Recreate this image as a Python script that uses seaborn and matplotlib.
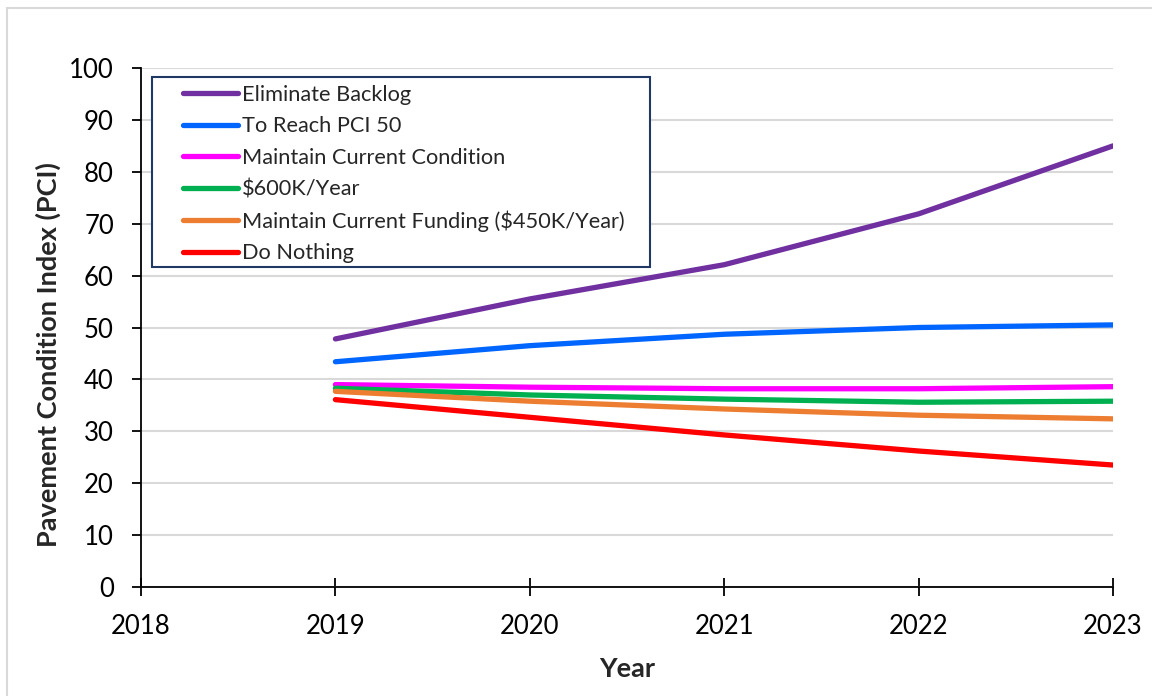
import pandas as pd
import seaborn as sns
import matplotlib.pyplot as plt
from matplotlib.patches import Rectangle

years = [2019, 2020, 2021, 2022, 2023]
eliminate_backlog = [47.8, 55.5, 62.1, 71.9, 85.0]
reach_pci_50 = [43.4, 46.5, 48.7, 50.0, 50.5]
maintain_condition = [39.0, 38.5, 38.2, 38.2, 38.6]
funding_600k = [38.3, 37.0, 36.2, 35.6, 35.8]
funding_450k = [37.7, 35.8, 34.3, 33.1, 32.4]
do_nothing = [36.1, 32.7, 29.3, 26.2, 23.5]

scenarios = ["Eliminate Backlog", "To Reach PCI 50", "Maintain Current Condition",
             "$600K/Year", "Maintain Current Funding ($450K/Year)", "Do Nothing"]
colors = ["#7030a0", "#0066ff", "#ff00ff", "#00b050", "#ed7d31", "#ff0000"]


def build_frame():
    '''
    Long-form table of PCI by year for each scenario
    '''
    series = [eliminate_backlog, reach_pci_50, maintain_condition,
              funding_600k, funding_450k, do_nothing]
    rows = []
    for name, values in zip(scenarios, series):
        for year, pci in zip(years, values):
            rows.append({"Year": year, "PCI": pci, "Scenario": name})
    return pd.DataFrame(rows)


def main():
    df = build_frame()
    sns.set_theme(style="white")
    plt.rcParams["font.family"] = ["Lato", "DejaVu Sans"]

    fig = plt.figure(figsize=(11.52, 6.96), dpi=100)
    ax = fig.add_axes([0.1224, 0.1566, 0.8438, 0.7457])
    # chart area border like the spreadsheet export
    fig.patches.append(Rectangle((0.006, -0.01), 1.2, 0.998, transform=fig.transFigure,
                                 fill=False, edgecolor="#d9d9d9", linewidth=1.5))

    sns.lineplot(data=df, x="Year", y="PCI", hue="Scenario", hue_order=scenarios,
                 palette=colors, linewidth=3.8, ax=ax, legend=False,
                 solid_capstyle="round")

    ax.set_xlim(2018, 2023)
    ax.set_ylim(0, 100)
    ax.set_xticks(range(2018, 2024))
    ax.set_yticks(range(0, 101, 10))
    ax.grid(axis="y", color="#d9d9d9", linewidth=1.5)
    ax.set_axisbelow(True)
    for side in ["top", "right"]:
        ax.spines[side].set_visible(False)
    for side in ["left", "bottom"]:
        ax.spines[side].set_color("black")
        ax.spines[side].set_linewidth(1.3)
    ax.tick_params(axis="y", direction="out", length=6.5, width=1.3, colors="black",
                   labelsize=18.5, left=True, pad=13)
    ax.tick_params(axis="x", direction="inout", length=13, width=1.3, colors="black",
                   labelsize=18.5, bottom=True, pad=13)
    ax.set_xlabel("Year", fontsize=19.5, fontweight="bold", labelpad=13)
    ax.set_ylabel("Pavement Condition Index (PCI)", fontsize=19.5, fontweight="bold")
    ax.yaxis.set_label_coords(-0.082, 0.448)

    # legend box is wider than its entries, so draw the frame separately
    ax.add_patch(Rectangle((0.0113, 0.6166), 0.5124, 0.3661, transform=ax.transAxes,
                           facecolor="white", edgecolor="#1f3864", linewidth=1.5,
                           zorder=4.9, clip_on=False))
    handles = [plt.Line2D([], [], color=c, linewidth=3.8, solid_capstyle="round") for c in colors]
    leg = ax.legend(handles, scenarios, loc="upper left", bbox_to_anchor=(0.0432, 0.967),
                    fontsize=15.7, frameon=False, handlelength=2.52,
                    handletextpad=0.18, labelspacing=0.52, borderpad=0,
                    borderaxespad=0)
    leg.set_zorder(5)

    plt.savefig("out.png", dpi=100)


if __name__ == "__main__":
    main()
